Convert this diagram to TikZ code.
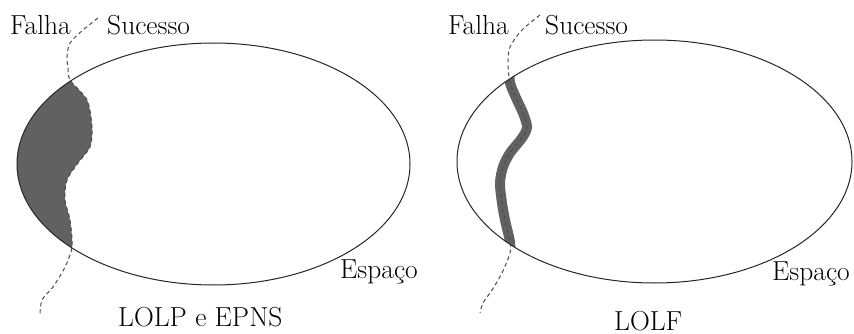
\documentclass[tikz,border=0pt]{standalone}
\usepackage{fontspec}
\begin{document}
\begin{tikzpicture}[
  x=1pt, y=-1pt,
  rotulo/.style={font=\fontsize{27.5}{32}\selectfont, inner sep=0pt, anchor=base west},
  espaco/.style={draw=black!85, line width=1pt},
  fronteira/.style={black!70, line width=1pt, dash pattern=on 4pt off 3pt},
  regiao/.style={fill=black!62},
  faixa/.style={draw=black!62, line width=10pt},
]
\useasboundingbox (0,0) rectangle (854,334);
% espaco de estados: LOLP e EPNS
\begin{scope}
  \clip (213.5,164) ellipse [x radius=196.5, y radius=121];
  \fill[regiao] plot[smooth] coordinates {(98,18) (83,30) (70,43) (67,57) (68,67) (70,80)
      (87,100) (92,127) (90,147) (78,163) (67,180) (65,200) (70,220) (72,247)
      (65,267) (53,287) (42,300) (40,315)} -- (0,315) -- (0,18) -- cycle;
\end{scope}
\draw[espaco] (213.5,164) ellipse [x radius=196.5, y radius=121];
\draw[fronteira] plot[smooth] coordinates {(98,18) (83,30) (70,43) (67,57) (68,67) (70,80)
    (87,100) (92,127) (90,147) (78,163) (67,180) (65,200) (70,220) (72,247)
    (65,267) (53,287) (42,300) (40,315)};
\node[rotulo] (falha1) at (10,35) {Falha};
\node[rotulo] (sucesso1) at (107,35) {Sucesso};
\node[rotulo] (espaco1) at (340,278) {Espaço};
\node[rotulo] (lolp) at (118,326) {LOLP e EPNS};
% espaco de estados: LOLF
\begin{scope}
  \clip (654.5,161.5) ellipse [x radius=197.5, y radius=121.5];
  \draw[faixa] plot[smooth] coordinates {(510,70) (510,83) (517,100) (523,113) (527,127)
      (522,138) (510,153) (503,167) (500,183) (502,203) (505,220) (510,242) (510,255)};
\end{scope}
\draw[espaco] (654.5,161.5) ellipse [x radius=197.5, y radius=121.5];
\draw[fronteira] plot[smooth] coordinates {(540,15) (522,30) (510,47) (508,63) (510,83)
    (517,100) (523,113) (527,127) (522,138) (510,153) (503,167) (500,183) (502,203)
    (505,220) (510,242) (510,253) (502,273) (492,290) (483,303) (480,313)};
\node[rotulo] (falha2) at (448,35) {Falha};
\node[rotulo] (sucesso2) at (545,35) {Sucesso};
\node[rotulo] (espaco2) at (772,280) {Espaço};
\node[rotulo] (lolf) at (614,330) {LOLF};
\end{tikzpicture}
\end{document}
